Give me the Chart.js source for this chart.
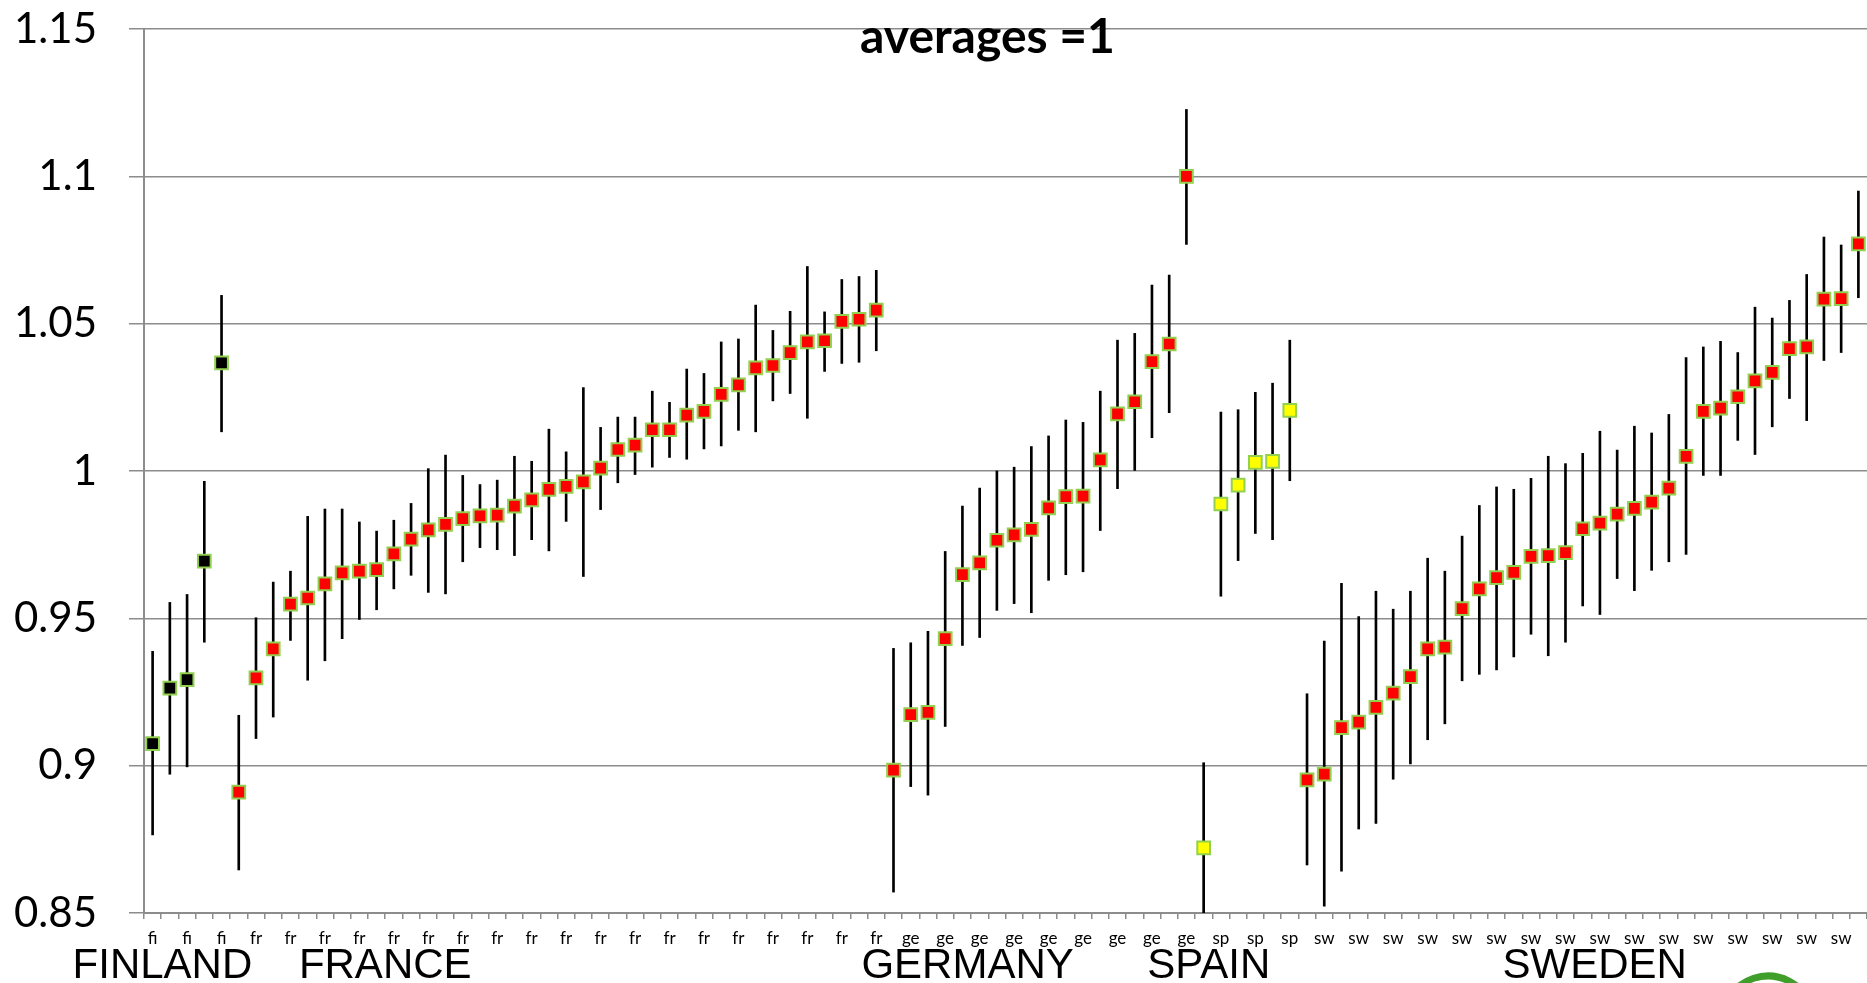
<!DOCTYPE html>
<html>

<head>
    <meta charset="utf-8">
    <title>averages =1</title>
    <script src="https://cdn.jsdelivr.net/npm/chart.js"></script>
    <style>
        html, body { margin: 0; padding: 0; background: #fff; overflow: hidden; }
        #wrap { width: 1867px; height: 983px; position: relative; }
        canvas { display: block; }
    </style>
</head>

<body>
    <div id="wrap"><canvas id="grafica"></canvas></div>

    <script>
        // country groups, in axis order
        const groupNames = ['FINLAND', 'FRANCE', 'GERMANY', 'SPAIN', 'SWEDEN'];
        const groupCodes = ['fi', 'fr', 'ge', 'sp', 'sw'];
        const groupSizes = [5, 38, 18, 6, 33];
        const groupFill = ['#000000', '#ff0000', '#ff0000', '#ffff00', '#ff0000'];

        // ratio to the average for every region
        const means = [
            0.9075, 0.9263, 0.9292, 0.9694, 1.0367,
            0.891, 0.9298, 0.9396, 0.9548, 0.9569, 0.9617, 0.9654, 0.966, 0.9665, 0.9719,
            0.9769, 0.98, 0.9819, 0.9838, 0.9848, 0.985, 0.9881, 0.9902, 0.9938, 0.9948,
            0.9963, 1.001, 1.0073, 1.0088, 1.014, 1.014, 1.019, 1.0202, 1.026, 1.0292,
            1.035, 1.0358, 1.0402, 1.0438, 1.0442, 1.0508, 1.0515, 1.0546,
            0.8985, 0.9173, 0.9181, 0.9431, 0.9648, 0.9688, 0.9765, 0.9783, 0.9802, 0.9875,
            0.9913, 0.9915, 1.0038, 1.0194, 1.0235, 1.0371, 1.0431, 1.1,
            0.8721, 0.9888, 0.9952, 1.0029, 1.0033, 1.0206,
            0.8952, 0.8971, 0.9129, 0.9148, 0.9198, 0.9246, 0.9302, 0.9396, 0.9402, 0.9533,
            0.96, 0.9638, 0.9656, 0.971, 0.9713, 0.9723, 0.9804, 0.9823, 0.9854, 0.9873,
            0.9894, 0.9942, 1.005, 1.0202, 1.0213, 1.0252, 1.0306, 1.0335, 1.0415, 1.0421,
            1.0583, 1.0585, 1.0771
        ];
        // top and bottom of the error bars
        const upper = [
            0.9388, 0.9554, 0.9581, 0.9965, 1.0596,
            0.9171, 0.9502, 0.9623, 0.966, 0.9846, 0.9871, 0.9871, 0.9827, 0.9796, 0.9833,
            0.989, 1.0008, 1.0054, 0.9985, 0.9954, 0.9969, 1.005, 1.0033, 1.0142, 1.0065,
            1.0283, 1.0148, 1.0183, 1.0183, 1.0271, 1.0233, 1.0346, 1.0331, 1.0438, 1.0448,
            1.0563, 1.0477, 1.0542, 1.0694, 1.054, 1.065, 1.066, 1.0681,
            0.9398, 0.9417, 0.9456, 0.9727, 0.9881, 0.9942, 1.0, 1.0013, 1.0083, 1.0119,
            1.0173, 1.0165, 1.0271, 1.0444, 1.0467, 1.0631, 1.0665, 1.1227,
            0.901, 1.02, 1.0208, 1.0267, 1.0298, 1.0444,
            0.9244, 0.9423, 0.9619, 0.9506, 0.9592, 0.9531, 0.9592, 0.9704, 0.966, 0.9779,
            0.9883, 0.9946, 0.9938, 0.9975, 1.005, 1.0025, 1.006, 1.0135, 1.0071, 1.0152,
            1.0129, 1.0192, 1.0385, 1.0421, 1.044, 1.0402, 1.0556, 1.0519, 1.0579, 1.0667,
            1.0794, 1.0767, 1.095
        ];
        const lower = [
            0.8765, 0.8971, 0.8996, 0.9419, 1.0133,
            0.8646, 0.9092, 0.9165, 0.9425, 0.929, 0.9356, 0.9431, 0.9496, 0.9529, 0.96,
            0.9646, 0.9588, 0.9583, 0.9692, 0.974, 0.9733, 0.9713, 0.9767, 0.9729, 0.9829,
            0.9642, 0.9869, 0.996, 0.9988, 1.0013, 1.0046, 1.004, 1.0075, 1.0085, 1.0138,
            1.0133, 1.0238, 1.0263, 1.0179, 1.0338, 1.0365, 1.0369, 1.0408,
            0.8571, 0.8929, 0.89, 0.9133, 0.9408, 0.9435, 0.9527, 0.955, 0.9519, 0.9629,
            0.9648, 0.9658, 0.9798, 0.994, 1.0002, 1.0113, 1.0198, 1.0769,
            0.85, 0.9575, 0.9696, 0.9788, 0.9767, 0.9967,
            0.8663, 0.8523, 0.8642, 0.8785, 0.8804, 0.8954, 0.9006, 0.9088, 0.9142, 0.9288,
            0.931, 0.9325, 0.9369, 0.9446, 0.9373, 0.9419, 0.9542, 0.9513, 0.9635, 0.9594,
            0.9663, 0.9692, 0.9717, 0.9985, 0.9985, 1.0104, 1.0056, 1.015, 1.0246, 1.0171,
            1.0375, 1.0402, 1.0588
        ];

        const yTicks = [0.85, 0.9, 0.95, 1, 1.05, 1.1, 1.15];
        const chartTitle = 'averages =1';

        // one code and one fill colour per category
        const codes = [];
        const fills = [];
        groupSizes.forEach((n, g) => {
            for (let k = 0; k < n; k++) {
                codes.push(groupCodes[g]);
                fills.push(groupFill[g]);
            }
        });

        // where the big country names sit, in category units
        const namePos = [0.57, 13.5, 47.3, 61.3, 83.7];

        const gris = '#8c8c8c';

        const textos = {
            id: 'textos',
            afterDraw(chart) {
                const { ctx, chartArea, scales } = chart;
                ctx.save();
                ctx.fillStyle = '#000';
                ctx.textBaseline = 'alphabetic';
                ctx.textAlign = 'center';

                ctx.font = 'bold 48px Lato';
                ctx.fillText(chartTitle, (chartArea.left + chartArea.right) / 2 - 18, chartArea.top + 24);

                ctx.font = '42px "Liberation Sans"';
                groupNames.forEach((name, g) => {
                    ctx.fillText(name, scales.x.getPixelForValue(namePos[g]), 978);
                });

                // corner of the logo peeking in at the bottom
                ctx.strokeStyle = '#3f9f2a';
                ctx.lineWidth = 7;
                ctx.beginPath();
                ctx.arc(1768, 1022, 46, Math.PI * 1.15, Math.PI * 1.85);
                ctx.stroke();
                ctx.restore();
            }
        };

        const ctx = document.getElementById('grafica').getContext('2d');
        new Chart(ctx, {
            data: {
                labels: codes,
                datasets: [{
                    type: 'line',
                    data: means,
                    showLine: false,
                    pointStyle: 'rect',
                    pointRadius: 9,
                    pointHoverRadius: 9,
                    pointBorderWidth: 2,
                    pointBackgroundColor: fills,
                    pointBorderColor: '#92d050',
                    order: 1
                }, {
                    type: 'bar',
                    data: lower.map((lo, i) => [lo, upper[i]]),
                    backgroundColor: '#000',
                    borderWidth: 0,
                    barThickness: 2,
                    grouped: false,
                    order: 2
                }]
            },
            options: {
                responsive: true,
                maintainAspectRatio: false,
                animation: false,
                events: [],
                layout: {
                    autoPadding: false,
                    padding: { top: 29, right: 0, bottom: 0, left: 0 }
                },
                plugins: {
                    legend: { display: false },
                    tooltip: { enabled: false }
                },
                scales: {
                    x: {
                        type: 'category',
                        offset: true,
                        grid: {
                            offset: true,
                            drawOnChartArea: false,
                            tickLength: 6,
                            color: gris,
                            lineWidth: 1.5
                        },
                        border: { color: gris, width: 2 },
                        ticks: {
                            autoSkip: false,
                            maxRotation: 0,
                            padding: 9,
                            color: '#000',
                            font: { family: 'Lato', size: 17 },
                            callback: (v, i) => (i % 2 === 0 ? codes[i] : '')
                        },
                        afterFit: s => {
                            s.height = 70;
                            s.paddingLeft = 0;
                            s.paddingRight = 0;
                        }
                    },
                    y: {
                        min: 0.85,
                        max: 1.15,
                        afterBuildTicks: s => { s.ticks = yTicks.map(v => ({ value: v })); },
                        grid: { color: gris, lineWidth: 1.5, tickLength: 15 },
                        border: { color: gris, width: 2 },
                        ticks: {
                            padding: 32,
                            color: '#000',
                            font: { family: 'Lato', size: 42 },
                            callback: v => String(+v.toFixed(2))
                        },
                        afterFit: s => {
                            s.width = 144;
                            s.paddingTop = 0;
                            s.paddingBottom = 0;
                        }
                    }
                }
            },
            plugins: [textos]
        });
    </script>

</body>

</html>
